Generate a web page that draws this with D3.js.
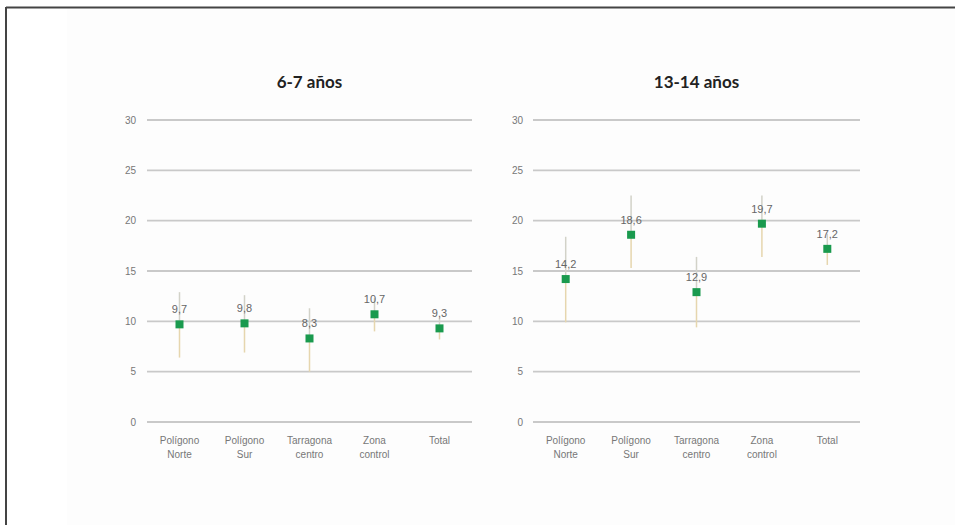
<!DOCTYPE html>
<html>
<head>
<meta charset="utf-8">
<script src="https://cdn.jsdelivr.net/npm/d3@7/dist/d3.min.js"></script>
<style>
  html, body { margin: 0; padding: 0; background: #fff; }
  svg { display: block; }
</style>
</head>
<body>
<svg id="chart" width="955" height="525"></svg>
<script>
// Zones (two-line category labels)
const categories = ["Polígono Norte", "Polígono Sur", "Tarragona centro", "Zona control", "Total"];
const categoryLines = [["Polígono", "Norte"], ["Polígono", "Sur"], ["Tarragona", "centro"], ["Zona", "control"], ["Total"]];
const yTicks = [0, 5, 10, 15, 20, 25, 30];

// 6-7 años: point estimate with lower / upper interval bounds
const young = [9.7, 9.8, 8.3, 10.7, 9.3];
const youngLow = [6.4, 6.9, 5.0, 9.0, 8.2];
const youngHigh = [12.9, 12.6, 11.3, 12.3, 10.4];

// 13-14 años
const teen = [14.2, 18.6, 12.9, 19.7, 17.2];
const teenLow = [9.9, 15.3, 9.4, 16.4, 15.6];
const teenHigh = [18.4, 22.5, 16.4, 22.5, 18.7];

const panels = [
  { title: "6-7 años", values: young, low: youngLow, high: youngHigh, x0: 147, x1: 472, labelX: 136 },
  { title: "13-14 años", values: teen, low: teenLow, high: teenHigh, x0: 533, x1: 860, labelX: 523 }
];

const svg = d3.select("#chart");
const fmt = v => d3.format(".1f")(v).replace(".", ",");

// outer frame and subtle background
svg.append("rect").attr("x", 67).attr("y", 8).attr("width", 888).attr("height", 517).attr("fill", "#fdfdfd");
svg.append("line").attr("x1", 6).attr("x2", 955).attr("y1", 7.5).attr("y2", 7.5).attr("stroke", "#444").attr("stroke-width", 2);
svg.append("line").attr("x1", 6).attr("x2", 6).attr("y1", 7).attr("y2", 525).attr("stroke", "#444").attr("stroke-width", 2);

const y = d3.scaleLinear().domain([0, 30]).range([422, 120]);

panels.forEach(p => {
  const g = svg.append("g");
  const x = d3.scaleBand().domain(categories).range([p.x0, p.x1]);

  g.append("text")
    .attr("x", (p.x0 + p.x1) / 2).attr("y", 88)
    .attr("text-anchor", "middle")
    .attr("font-family", "Lato, 'Open Sans', sans-serif")
    .attr("font-weight", "bold").attr("font-size", 17).attr("fill", "#222")
    .text(p.title);

  // horizontal gridlines
  g.selectAll(".grid").data(yTicks).join("line")
    .attr("x1", p.x0).attr("x2", p.x1)
    .attr("y1", d => y(d)).attr("y2", d => y(d))
    .attr("stroke", "#c9c9c9").attr("stroke-width", 1.8);

  // y tick labels
  g.selectAll(".ytick").data(yTicks).join("text")
    .attr("x", p.labelX).attr("y", d => y(d)).attr("dy", "0.35em")
    .attr("text-anchor", "end")
    .attr("font-family", "'Liberation Sans', Arial, sans-serif")
    .attr("font-size", 10).attr("fill", "#777")
    .text(d => d);

  // category labels
  categories.forEach((c, i) => {
    const t = g.append("text")
      .attr("x", x(c) + x.bandwidth() / 2).attr("y", 444)
      .attr("text-anchor", "middle")
      .attr("font-family", "'Liberation Sans', Arial, sans-serif")
      .attr("font-size", 10).attr("fill", "#777");
    categoryLines[i].forEach((line, j) => {
      t.append("tspan").attr("x", x(c) + x.bandwidth() / 2).attr("dy", j === 0 ? 0 : 14).text(line);
    });
  });

  const rows = categories.map((c, i) => ({ c, v: p.values[i], lo: p.low[i], hi: p.high[i] }));
  const cx = d => x(d.c) + x.bandwidth() / 2;

  // interval lines
  g.selectAll(".hi").data(rows).join("line")
    .attr("x1", cx).attr("x2", cx)
    .attr("y1", d => y(d.hi)).attr("y2", d => y(d.v))
    .attr("stroke", "#d2d2c8").attr("stroke-width", 1.5);
  g.selectAll(".lo").data(rows).join("line")
    .attr("x1", cx).attr("x2", cx)
    .attr("y1", d => y(d.v)).attr("y2", d => y(d.lo))
    .attr("stroke", "#e6d6ae").attr("stroke-width", 1.5);

  // value labels
  g.selectAll(".val").data(rows).join("text")
    .attr("x", cx).attr("y", d => y(d.v) - 11)
    .attr("text-anchor", "middle")
    .attr("font-family", "'Liberation Sans', Arial, sans-serif")
    .attr("font-size", 11).attr("fill", "#666")
    .text(d => fmt(d.v));

  // point markers
  g.selectAll(".pt").data(rows).join("rect")
    .attr("x", d => cx(d) - 4).attr("y", d => y(d.v) - 4)
    .attr("width", 8).attr("height", 8)
    .attr("fill", "#1a9a4e");
});
</script>
</body>
</html>
